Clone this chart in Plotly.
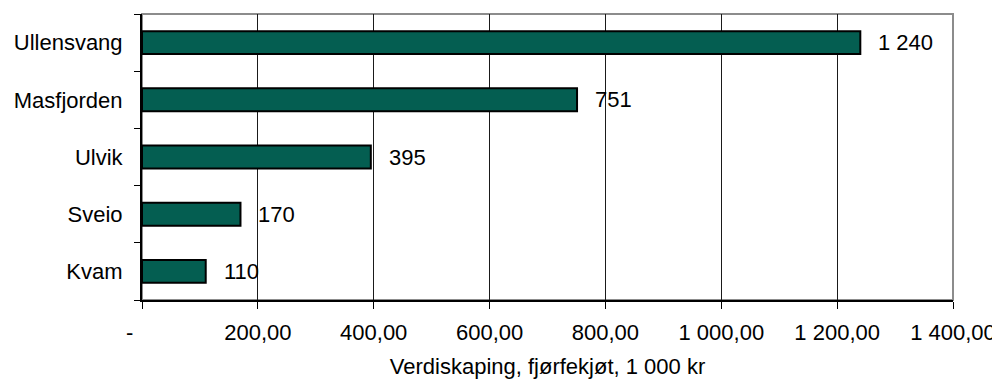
import plotly.graph_objects as go

categories = ["Ullensvang", "Masfjorden", "Ulvik", "Sveio", "Kvam"]
values = [1240, 751, 395, 170, 110]
value_labels = ["1 240", "751", "395", "170", "110"]
x_tickvals = [0, 200, 400, 600, 800, 1000, 1200, 1400]
x_ticktext = ["-\u00a0\u00a0\u00a0\u00a0", "200,00", "400,00", "600,00", "800,00",
              "1 000,00", "1 200,00", "1 400,00"]
x_title = "Verdiskaping, fjørfekjøt, 1 000 kr"

FONT = "Liberation Sans, Arial, sans-serif"

fig = go.Figure()
fig.add_trace(go.Bar(
    y=categories, x=values, orientation="h", width=0.4,
    marker=dict(color="#045E51", line=dict(color="black", width=2)),
    hoverinfo="skip",
))

for c, v, t in zip(categories, values, value_labels):
    fig.add_annotation(x=v, y=c, text=t, showarrow=False, xanchor="left",
                       xshift=16, font=dict(family=FONT, size=22, color="black"))

fig.add_shape(type="rect", xref="paper", yref="paper", x0=0, x1=1, y0=0, y1=1,
              line=dict(color="#8c8c8c", width=2), layer="below")

fig.update_layout(
    width=992, height=374,
    margin=dict(l=134, r=47, t=6, b=82),
    paper_bgcolor="white", plot_bgcolor="white",
    showlegend=False,
    font=dict(family=FONT, size=22, color="black"),
    xaxis=dict(
        range=[0, 1400], tickvals=x_tickvals, ticktext=x_ticktext,
        showgrid=True, gridcolor="#1a1a1a", gridwidth=1,
        showline=True, linecolor="black", linewidth=2,
        ticks="outside", ticklen=7, tickcolor="black", tickwidth=1,
        zeroline=False, ticklabelstandoff=5, automargin=False,
        title=dict(text=x_title, standoff=14, font=dict(size=22)),
        tickfont=dict(size=22),
    ),
    yaxis=dict(
        categoryorder="array", categoryarray=categories[::-1],
        tickson="boundaries", ticks="outside", ticklen=6, tickcolor="black",
        showline=True, linecolor="black", linewidth=2,
        showgrid=False, zeroline=False, ticklabelstandoff=13,
        automargin=False,
        tickfont=dict(size=22),
    ),
)

fig.write_html("out.html")
